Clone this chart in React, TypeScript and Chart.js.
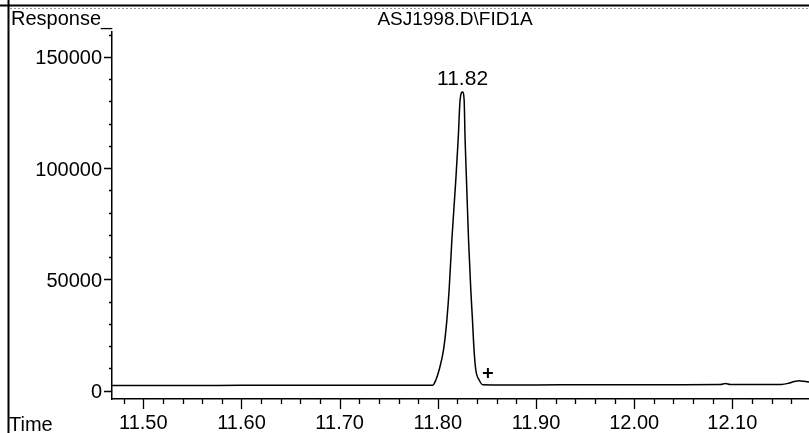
import React, { useEffect, useRef } from "react";
import { Chart, registerables } from "chart.js";

Chart.register(...registerables);

// Chromatogram trace (time in min, detector response)
const times = [
  11.4681, 11.5, 11.55, 11.6, 11.65, 11.7, 11.75, 11.78, 11.7949, 11.798,
  11.8013, 11.8058, 11.8092, 11.8115, 11.8143, 11.8183, 11.8207, 11.8227,
  11.8252, 11.8268, 11.8278, 11.8292, 11.8313, 11.8336, 11.8353, 11.8369,
  11.8387, 11.8421, 11.8458, 11.87, 11.9, 11.95, 12.0, 12.05, 12.088, 12.093,
  12.098, 12.13, 12.15, 12.157, 12.163, 12.168, 12.173, 12.1781,
];
const responses = [
  2350, 2350, 2350, 2400, 2400, 2400, 2450, 2450, 2500, 4800, 9300, 18300,
  31700, 45200, 67700, 94600, 112600, 130600, 134200, 130600, 112600, 94600,
  67700, 45200, 31700, 18300, 9300, 4800, 2700, 2600, 2600, 2700, 2700, 2700,
  2750, 3200, 2750, 2750, 2800, 3300, 4100, 4450, 4200, 3900,
];

// "+" marker near the peak end
const markerTimes = [11.851];
const markerResponses = [7900];

// Peak annotation
const peakTime = 11.8252;
const peakResponse = 134200;
const peakLabel = "11.82";

// Axis tick positions and labels
const xTickValues = [
  11.48, 11.5, 11.52, 11.54, 11.56, 11.58, 11.6, 11.62, 11.64, 11.66, 11.68,
  11.7, 11.72, 11.74, 11.76, 11.78, 11.8, 11.82, 11.84, 11.86, 11.88, 11.9,
  11.92, 11.94, 11.96, 11.98, 12.0, 12.02, 12.04, 12.06, 12.08, 12.1, 12.12,
  12.14, 12.16,
];
const yTickValues = [
  0, 10000, 20000, 30000, 40000, 50000, 60000, 70000, 80000, 90000, 100000,
  110000, 120000, 130000, 140000, 150000, 160000,
];
const xTickLabels = ["11.50", "11.60", "11.70", "11.80", "11.90", "12.00", "12.10"];
const yTickLabels = ["0", "50000", "100000", "150000"];
const titleText = "ASJ1998.D\\FID1A";
const yAxisTitle = "Response_";
const xAxisTitle = "Time";

const FONT = '"Liberation Sans", Arial, sans-serif';

const decorPlugin = {
  id: "decor",
  afterDraw(chart: any) {
    const ctx = chart.ctx;
    const xs = chart.scales.x;
    const ys = chart.scales.y;
    ctx.save();
    ctx.strokeStyle = "#000";
    ctx.fillStyle = "#000";

    // page frame lines
    ctx.lineWidth = 2;
    ctx.beginPath();
    ctx.moveTo(0, 5.5);
    ctx.lineTo(809, 5.5);
    ctx.moveTo(8.5, 0);
    ctx.lineTo(8.5, 433);
    ctx.stroke();
    ctx.lineWidth = 1;
    ctx.strokeStyle = "#999";
    ctx.setLineDash([2, 2]);
    ctx.beginPath();
    ctx.moveTo(10, 8.5);
    ctx.lineTo(809, 8.5);
    ctx.stroke();
    ctx.setLineDash([]);
    ctx.strokeStyle = "#000";

    // tick marks
    ctx.lineWidth = 1.3;
    ctx.beginPath();
    for (const t of xs.ticks) {
      const v = t.value;
      const px = Math.round(xs.getPixelForValue(v)) + 0.5;
      const major = xTickLabels.includes(Number(v).toFixed(2));
      ctx.moveTo(px, xs.top);
      ctx.lineTo(px, xs.top + (major ? 10 : 5));
    }
    for (const t of ys.ticks) {
      const v = t.value;
      const py = Math.round(ys.getPixelForValue(v)) + 0.5;
      const major = yTickLabels.includes(String(v));
      ctx.moveTo(ys.right, py);
      ctx.lineTo(ys.right - (major ? 8 : 3), py);
    }
    ctx.stroke();

    // texts
    ctx.font = `20px ${FONT}`;
    ctx.textBaseline = "alphabetic";
    ctx.textAlign = "left";
    ctx.fillText(yAxisTitle, 11, 25);
    ctx.font = `19px ${FONT}`;
    ctx.textAlign = "center";
    ctx.fillText(titleText, 455, 25);
    ctx.font = `20px ${FONT}`;
    ctx.textAlign = "left";
    ctx.fillText(xAxisTitle, 9, 431);

    // peak label
    ctx.font = `21px ${FONT}`;
    ctx.textAlign = "center";
    const px = xs.getPixelForValue(peakTime);
    const py = ys.getPixelForValue(peakResponse);
    ctx.fillText(peakLabel, px, py - 7);
    ctx.restore();
  },
};

export default function App() {
  const ref = useRef<HTMLCanvasElement | null>(null);
  useEffect(() => {
    if (!ref.current) return;
    const chart = new Chart(ref.current, {
      type: "scatter",
      data: {
        datasets: [
          {
            data: times.map((t, i) => ({ x: t, y: responses[i] })),
            showLine: true,
            borderColor: "#000",
            borderWidth: 1.5,
            pointRadius: 0,
            cubicInterpolationMode: "monotone",
            fill: false,
          },
          {
            data: markerTimes.map((t, i) => ({ x: t, y: markerResponses[i] })),
            showLine: false,
            pointStyle: "cross",
            pointRadius: 5,
            borderColor: "#000",
            borderWidth: 2,
          },
        ],
      } as any,
      options: {
        responsive: false,
        animation: false,
        layout: { autoPadding: false, padding: { top: 32, left: 0, right: 0, bottom: 0 } },
        plugins: {
          legend: { display: false },
          tooltip: { enabled: false },
        },
        scales: {
          x: {
            type: "linear",
            min: 11.4681,
            max: 12.1781,
            afterBuildTicks(s: any) {
              s.ticks = xTickValues.map((v) => ({ value: v }));
            },
            afterFit(s: any) {
              s.height = 34;
              s.paddingLeft = 0;
              s.paddingRight = 0;
            },
            grid: { display: true, drawOnChartArea: false, drawTicks: false },
            border: { display: true, color: "#000", width: 1.5 },
            ticks: {
              autoSkip: false,
              maxRotation: 0,
              minRotation: 0,
              padding: 12,
              color: "#000",
              font: { family: FONT, size: 20 },
              callback: (value: any) => {
                const s = Number(value).toFixed(2);
                return xTickLabels.includes(s) ? s : "";
              },
            },
          },
          y: {
            type: "linear",
            min: -3730,
            max: 161130,
            afterBuildTicks(s: any) {
              s.ticks = yTickValues.map((v) => ({ value: v }));
            },
            afterFit(s: any) {
              s.width = 112;
              s.paddingTop = 0;
              s.paddingBottom = 0;
            },
            grid: { display: true, drawOnChartArea: false, drawTicks: false },
            border: { display: true, color: "#000", width: 1.5 },
            ticks: {
              autoSkip: false,
              padding: 10,
              labelOffset: 2,
              color: "#000",
              font: { family: FONT, size: 20 },
              callback: (value: any) => {
                const s = String(value);
                return yTickLabels.includes(s) ? s : "";
              },
            },
          },
        },
      } as any,
      plugins: [decorPlugin],
    });
    return () => chart.destroy();
  }, []);
  return (
    <div style={{ position: "fixed", left: 0, top: 0, width: 809, height: 433, background: "#fff" }}>
      <canvas ref={ref} width={809} height={433} style={{ display: "block" }} />
    </div>
  );
}
